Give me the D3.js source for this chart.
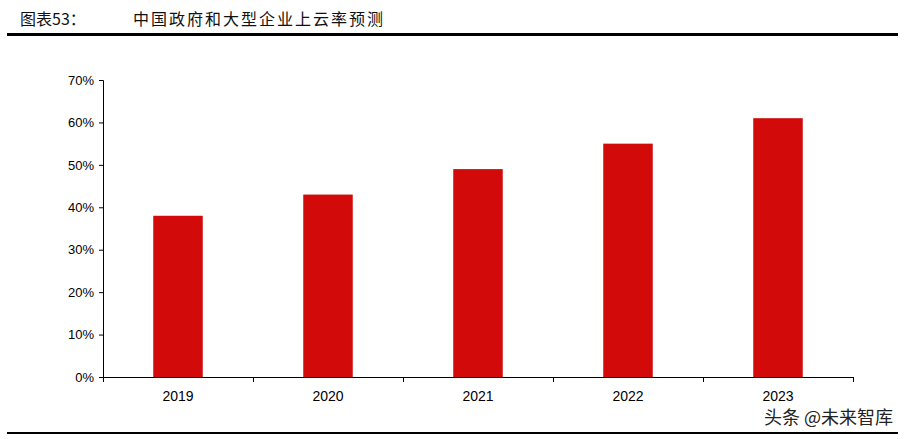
<!DOCTYPE html><html><head><meta charset="utf-8"><script src="https://d3js.org/d3.v7.min.js"></script>
<style>body{margin:0;background:#fff}</style></head><body><script>
const categories=["2019","2020","2021","2022","2023"];
const values=[0.38,0.43,0.49,0.55,0.61];
const yTicks=[0,0.1,0.2,0.3,0.4,0.5,0.6,0.7];
const W=905,H=439,m={l:103,r:52,t:80,b:62};
const svg=d3.select("body").append("svg").attr("width",W).attr("height",H);
svg.append("text").attr("x",20).attr("y",25).attr("font-family","Noto Sans CJK SC").attr("font-size",16).attr("fill","#111").text("图表53：");
svg.append("text").attr("x",133).attr("y",25).attr("font-family","Noto Sans CJK SC").attr("font-size",16).attr("fill","#111").attr("letter-spacing",2).text("中国政府和大型企业上云率预测");
svg.append("rect").attr("x",7).attr("y",33).attr("width",891).attr("height",3).attr("fill","#000");
svg.append("rect").attr("x",7).attr("y",432).attr("width",891).attr("height",2).attr("fill","#000");
const x=d3.scaleBand().domain(categories).range([m.l,W-m.r]).paddingInner(0.67).paddingOuter(0.335);
const y=d3.scaleLinear().domain([0,0.7]).range([H-m.b,m.t]);
const xb=d3.scaleLinear().domain([0,5]).range([m.l,W-m.r]);
svg.selectAll(".bar").data(values).join("rect").attr("x",(d,i)=>x(categories[i])).attr("width",x.bandwidth())
 .attr("y",d=>y(d)).attr("height",d=>y(0)-y(d)).attr("fill","#d20a0a");
const ya=svg.append("g").attr("transform",`translate(${m.l},0)`).call(d3.axisLeft(y).tickValues(yTicks).tickFormat(d3.format(".0%")).tickSize(4).tickPadding(5));
ya.selectAll("text").attr("font-family","Liberation Sans, Arial").attr("font-size",13).attr("fill","#000");
svg.append("g").attr("transform",`translate(0,${y(0)})`).call(d3.axisBottom(xb).tickValues([0,1,2,3,4,5]).tickSize(5).tickFormat(""));
svg.selectAll(".xl").data(categories).join("text").attr("x",d=>x(d)+x.bandwidth()/2).attr("y",y(0)+24).attr("text-anchor","middle")
 .attr("font-family","Liberation Sans, Arial").attr("font-size",14).attr("fill","#000").text(d=>d);
svg.selectAll(".domain,.tick line").attr("stroke","#000");
svg.append("text").attr("x",893).attr("y",424).attr("text-anchor","end").attr("font-family","Noto Sans CJK SC").attr("font-size",18).attr("fill","#222").text("头条 @未来智库");
</script></body></html>
